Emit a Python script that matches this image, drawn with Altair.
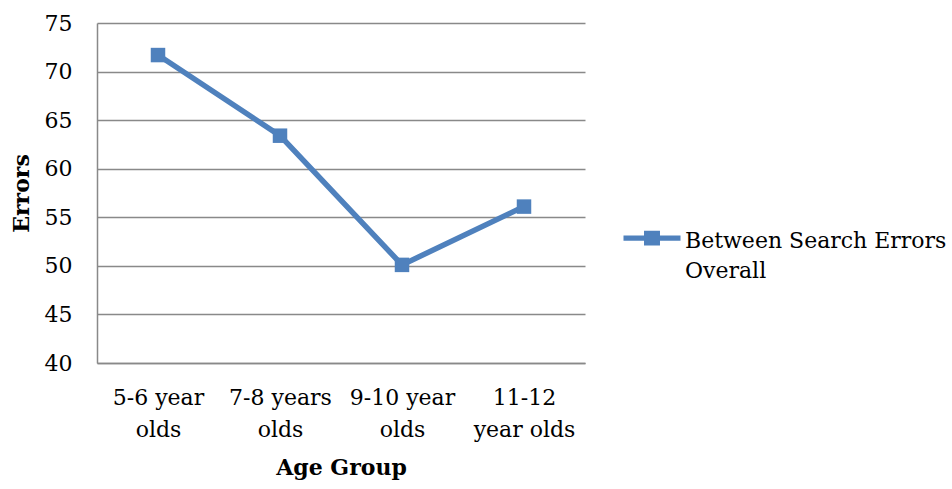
import json
import altair as alt
import pandas as pd

categories = ["5-6 year olds", "7-8 years olds", "9-10 year olds", "11-12 year olds"]
tick_lines = [["5-6 year", "olds"], ["7-8 years", "olds"], ["9-10 year", "olds"], ["11-12", "year olds"]]
errors = [71.7, 63.4, 50.1, 56.1]
series_name = "Between Search Errors Overall"
legend_lines = ["Between Search Errors", "Overall"]

df = pd.DataFrame({"age": categories, "errors": errors, "series": series_name})

label_map = json.dumps(dict(zip(categories, tick_lines)))
FONT = "DejaVu Serif"
FS = 22
BLUE = "#4F81BD"
GRID = "#898989"

color = alt.Color(
    "series:N",
    scale=alt.Scale(range=[BLUE]),
    legend=alt.Legend(
        title=None,
        orient="none",
        legendX=526,
        legendY=179,
        symbolType="M-1,0.16H1V0.34H-1Z M-0.28,-0.01H0.28V0.51H-0.28Z",
        symbolSize=3250,
        symbolStrokeWidth=0,
        symbolFillColor=BLUE,
        labelFont=FONT,
        labelFontSize=FS,
        labelColor="black",
        labelLimit=400,
        labelOffset=4,
        labelBaseline="top",
        labelExpr=json.dumps(legend_lines),
        padding=0,
    ),
)

x = alt.X(
    "age:N",
    sort=categories,
    scale=alt.Scale(paddingInner=0, paddingOuter=0.5),
    axis=alt.Axis(
        title="Age Group",
        titleFont=FONT,
        titleFontSize=FS,
        titleFontWeight="bold",
        titleColor="black",
        titlePadding=17,
        labelFont=FONT,
        labelFontSize=FS,
        labelColor="black",
        labelAngle=0,
        labelPadding=24,
        labelLineHeight=32,
        labelExpr=f"{label_map}[datum.value]",
        ticks=False,
        domainColor=GRID,
        domainWidth=1.5,
        grid=False,
    ),
)

y = alt.Y(
    "errors:Q",
    scale=alt.Scale(domain=[40, 75], nice=False, zero=False),
    axis=alt.Axis(
        title="Errors",
        titleFont=FONT,
        titleFontSize=FS,
        titleFontWeight="bold",
        titleColor="black",
        titlePadding=11,
        values=list(range(40, 80, 5)),
        labelFont=FONT,
        labelFontSize=FS,
        labelColor="black",
        labelPadding=25,
        ticks=False,
        domainColor=GRID,
        domainWidth=1.5,
        gridColor=GRID,
        gridWidth=1.5,
    ),
)

line = alt.Chart(df).mark_line(strokeWidth=5.5, color=BLUE).encode(x=x, y=y, color=color)
points = alt.Chart(df).mark_point(shape="square", filled=True, size=210, opacity=1, color=BLUE).encode(
    x=x, y=y, color=alt.Color("series:N", scale=alt.Scale(range=[BLUE]), legend=None)
)

chart = (
    alt.layer(line, points)
    .properties(
        width=488,
        height=340,
        autosize=alt.AutoSizeParams(type="none"),
        padding={"left": 97, "top": 23, "right": 367, "bottom": 126},
    )
    .configure(
        background="white",
        view={"stroke": None},
        style={"guide-label": {"lineHeight": 30}},
    )
)

chart.save("out.html", embed_options={"renderer": "svg", "actions": False})
